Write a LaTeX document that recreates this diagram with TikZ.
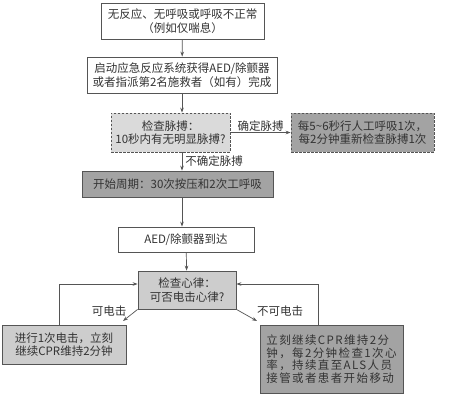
\documentclass[tikz,border=0pt]{standalone}
\usepackage{fontspec}
\setmainfont{Noto Sans CJK SC}
\usetikzlibrary{arrows.meta}

\definecolor{edgegray}{HTML}{555555}
\definecolor{txtgray}{HTML}{333333}
\definecolor{paleg}{HTML}{DADADA}
\definecolor{midg}{HTML}{CDCDCD}
\definecolor{darkg}{HTML}{A3A3A3}

\tikzset{
  box/.style={draw=edgegray, line width=0.8pt, align=center, inner sep=0pt,
    text=txtgray, font=\fontsize{11.5}{13.5}\selectfont},
  dbox/.style={box, dash pattern=on 2.5pt off 1.5pt},
  lab/.style={text=txtgray, font=\fontsize{11.5}{13.5}\selectfont, inner sep=1pt},
  link/.style={draw=edgegray, line width=0.7pt, -{Stealth[length=5pt,width=3.6pt]}}
}

\begin{document}
\begin{tikzpicture}[x=1pt,y=-1pt]
    \useasboundingbox[fill=white] (0,0) rectangle (449,403);

    % top two steps
    \node[box, minimum width=163, minimum height=36] (noresp) at (182.5,21)
        {无反应、无呼吸或呼吸不正常\\（例如仅喘息）};
    \node[box, minimum width=190, minimum height=36] (alarm) at (182,75)
        {启动应急反应系统获得AED/除颤器\\或者指派第2名施救者（如有）完成};

    % pulse check
    \node[dbox, fill=paleg, minimum width=119, minimum height=39] (pulse) at (170.5,132.5)
        {检查脉搏：\\10秒内有无明显脉搏?};
    \node[dbox, fill=darkg, minimum width=143, minimum height=39] (breath) at (362.5,132.5)
        {每5\textasciitilde6秒行人工呼吸1次，\\每2分钟重新检查脉搏1次};

    % CPR cycle and AED
    \node[box, fill=darkg, minimum width=191, minimum height=26] (cycle) at (177.5,184)
        {开始周期：30次按压和2次工呼吸};
    \node[box, minimum width=136, minimum height=25] (aed) at (186,239.5)
        {AED/除颤器到达};

    % rhythm check
    \node[box, fill=midg, minimum width=98, minimum height=38] (rhythm) at (187,290)
        {检查心律：\\可否电击心律?};

    % shock / no shock
    \node[box, fill=midg, minimum width=124, minimum height=39] (shock) at (64,344.5)
        {进行1次电击，立刻\\继续CPR维持2分钟};
    \node[box, fill=darkg, minimum width=143, minimum height=68, align=left,
          font=\fontsize{11.5}{12.6}\selectfont\addfontfeatures{LetterSpace=12}] (cpr) at (331.5,359)
        {立刻继续CPR维持2分\\钟，每2分钟检查1次心\\率，持续直至ALS人员\\接管或者患者开始移动};

    % free ends of the diagonal arrows
    \coordinate (shockend) at (123,321);
    \coordinate (cprend) at (257,321);

    % main column
    \draw[link] (noresp) -- (alarm);
    \draw[link] (alarm.south) -- (alarm.south |- pulse.north);
    \draw[link] (pulse) -- node[lab, above] {确定脉搏} (breath);
    \draw[link] (pulse.south -| alarm.south) -- node[lab, right, xshift=2pt] {不确定脉搏}
        (alarm.south |- cycle.north);
    \draw[link] (cycle.south -| alarm.south) -- (alarm.south |- aed.north);
    \draw[link] (aed) -- (rhythm);

    % decisions
    \draw[link] (rhythm.south west) -- (shockend);
    \node[lab] (shocklab) at (109,311) {可电击};
    \draw[link] (rhythm.south east) -- (cprend);
    \node[lab] (cprlab) at (280,311) {不可电击};

    % loops back to rhythm check
    \draw[link] ([xshift=-5pt]shock.north) |- ([yshift=6pt]rhythm.west);
    \draw[link] ([xshift=-13.5pt]cpr.north) |- ([yshift=6pt]rhythm.east);
\end{tikzpicture}
\end{document}
